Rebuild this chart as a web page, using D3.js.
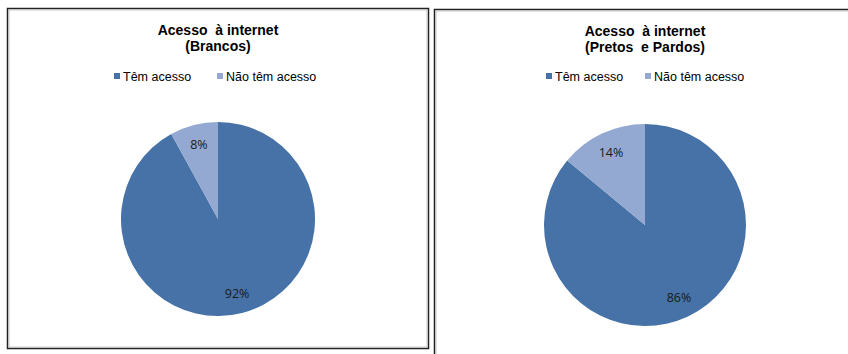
<!DOCTYPE html>
<html>
<head>
<meta charset="utf-8">
<script src="https://d3js.org/d3.v7.min.js"></script>
<style>
body { margin: 0; background: #fff; }
svg { display: block; }
.title { font-family: "Liberation Sans", Arial, sans-serif; font-weight: bold; font-size: 14px; fill: #000; white-space: pre; }
.legend text { font-family: "Liberation Sans", Arial, sans-serif; font-size: 12.5px; fill: #000; }
.label { font-family: "Open Sans", "Liberation Sans", sans-serif; font-size: 12.5px; fill: #1a1a1a; }
</style>
</head>
<body>
<svg width="848" height="354"></svg>
<script>

// Data
var categories = ["Têm acesso", "Não têm acesso"];
var colors = ["#4672a8", "#94a9d1"];
var brancos = [92, 8];
var pretosPardos = [86, 14];

var panels = [
	{ title: ["Acesso  à internet", "(Brancos)"], values: brancos,
	  box: [7, 8, 421, 340], cx: 218, cy: 219, r: 97, legendX: [114, 217] },
	{ title: ["Acesso  à internet", "(Pretos  e Pardos)"], values: pretosPardos,
	  box: [434, 9, 420, 350], cx: 645, cy: 225, r: 101, legendX: [546, 645] }
];

var svg = d3.select("svg");

var pie = d3.pie().sort(null).value(function (d) { return d; });

panels.forEach(function (p) {
	var g = svg.append("g");

	// frame
	g.append("rect")
		.attr("x", p.box[0] + 0.5).attr("y", p.box[1] + 0.5)
		.attr("width", p.box[2]).attr("height", p.box[3])
		.attr("fill", "#fff").attr("stroke", "#222").attr("stroke-width", 1.5);
	g.append("rect")
		.attr("x", p.box[0] + 2).attr("y", p.box[1] + 2)
		.attr("width", p.box[2] - 3).attr("height", p.box[3] - 3)
		.attr("fill", "none").attr("stroke", "#bbb").attr("stroke-width", 0.8);

	// title
	g.selectAll("text.title").data(p.title).enter().append("text")
		.attr("class", "title")
		.attr("x", p.cx)
		.attr("y", function (d, i) { return p.box[1] + 27 + i * 16; })
		.attr("text-anchor", "middle")
		.text(function (d) { return d; });

	// legend
	var leg = g.append("g").attr("class", "legend");
	categories.forEach(function (c, i) {
		leg.append("rect")
			.attr("x", p.legendX[i]).attr("y", 73)
			.attr("width", 6).attr("height", 6)
			.attr("fill", colors[i]);
		leg.append("text")
			.attr("x", p.legendX[i] + 9).attr("y", 81)
			.text(c);
	});

	// pie
	var arc = d3.arc().innerRadius(0).outerRadius(p.r);
	var labelArc = d3.arc().innerRadius(p.r * 0.79).outerRadius(p.r * 0.79);
	var arcs = pie(p.values);

	var pg = g.append("g").attr("transform", "translate(" + p.cx + "," + p.cy + ")");
	pg.selectAll("path").data(arcs).enter().append("path")
		.attr("d", arc)
		.attr("fill", function (d, i) { return colors[i]; });

	pg.selectAll("text").data(arcs).enter().append("text")
		.attr("class", "label")
		.attr("text-anchor", "middle")
		.attr("dy", "0.35em")
		.attr("transform", function (d) {
			var c = labelArc.centroid(d);
			return "translate(" + c[0] + "," + c[1] + ")";
		})
		.text(function (d) { return d.data + "%"; });
});

</script>
</body>
</html>
